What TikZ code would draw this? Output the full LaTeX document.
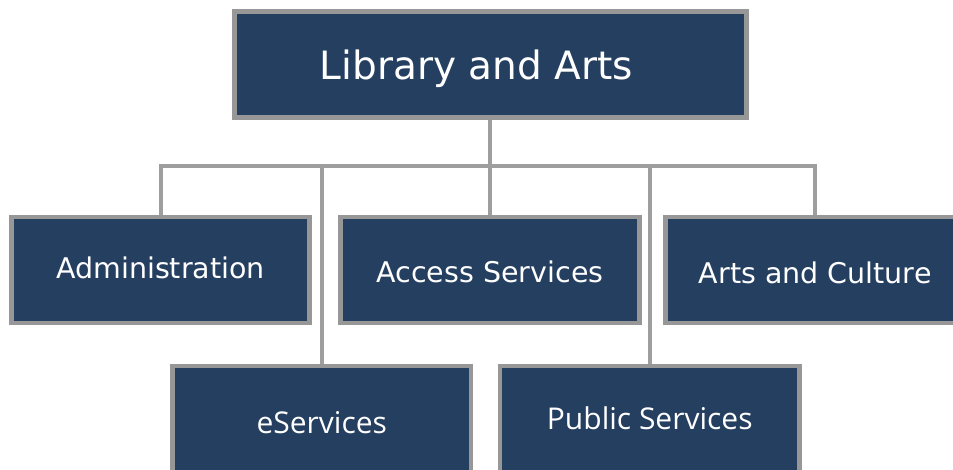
\documentclass[tikz,border=0pt]{standalone}
\usepackage{fontspec}
\usetikzlibrary{backgrounds}
\setmainfont{DejaVu Sans}
\newfontfamily\lowfont{Open Sans}
\definecolor{navy}{HTML}{253F61}
\definecolor{rim}{HTML}{979797}
\definecolor{wire}{HTML}{9E9E9E}
\newcommand{\drop}[2]{\raisebox{-#1}[0pt][0pt]{#2}}
\begin{document}
\begin{tikzpicture}[x=1pt,y=-1pt,
  box/.style={draw=rim, line width=4.5pt, fill=navy, text=white, rectangle, inner sep=0pt, outer sep=0pt},
  conn/.style={draw=wire, line width=4pt, line join=miter},
  midtext/.style={font=\fontsize{28.5}{34}\selectfont},
  lowtext/.style={font=\lowfont\fontsize{30}{36}\selectfont}]
\useasboundingbox (0,0) rectangle (953,469);
\clip (0,0) rectangle (953,469);
% nodes
\node[box, minimum width=511.8pt, minimum height=105.8pt, font=\fontsize{39}{45}\selectfont] (top) at (490.4,64.4) {\hspace*{-28pt}\drop{14.8pt}{Library and Arts}};
\node[box, midtext, minimum width=298pt, minimum height=106pt] (admin) at (160.5,270) {\drop{8.6pt}{Administration}};
\node[box, midtext, minimum width=299pt, minimum height=106pt] (access) at (490,270) {\drop{12.2pt}{Access Services}};
\node[box, midtext, minimum width=299.5pt, minimum height=106pt] (arts) at (815.25,270) {\drop{13.2pt}{Arts and Culture}};
\node[box, lowtext, minimum width=298.5pt, minimum height=106pt] (eserv) at (321.75,419) {\drop{14.5pt}{eServices}};
\node[box, lowtext, minimum width=299.5pt, minimum height=106pt] (public) at (649.75,419) {\drop{10.7pt}{Public Services}};
\coordinate (bus) at (490,166.3);
% connectors behind the boxes
\begin{pgfonlayer}{background}
\fill[white] (0,0) rectangle (953,469);
\path[conn] (top.south) -- (top.south |- bus);
\path[conn] (admin.north) -- (admin.north |- bus) -- (arts.north |- bus) -- (arts.north);
\path[conn] (eserv.north |- bus) -- (eserv.north);
\path[conn] (public.north |- bus) -- (public.north);
\path[conn] (access.north |- bus) -- (access.north);
\end{pgfonlayer}
\end{tikzpicture}
\end{document}
